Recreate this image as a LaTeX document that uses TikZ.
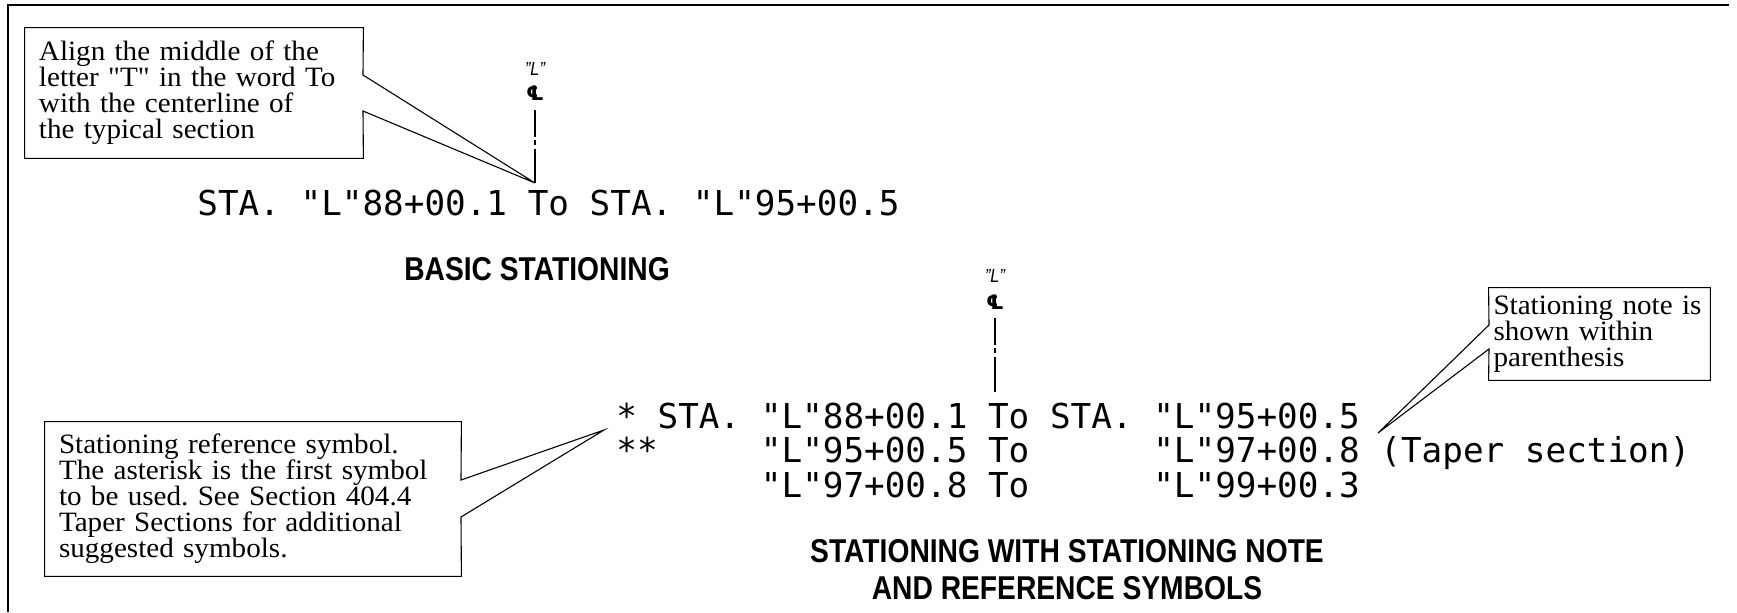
\documentclass[tikz,border=0pt]{standalone}
\usepackage{fontspec}
\newfontfamily\notefont{Liberation Serif}[FakeStretch=1.04]
\newfontfamily\monofont{DejaVu Sans Mono}
\newfontfamily\headfont{Liberation Sans}[FakeStretch=0.855]
\newfontfamily\clfont{DejaVu Sans}
\begin{document}
\begin{tikzpicture}[x=0.5pt,y=-0.5pt,
  note/.style={align=left,inner ysep=0pt,font=\notefont\fontsize{14}{13}\selectfont\frenchspacing},
  outline/.style={line width=0.55pt,line join=miter},
  sta/.style={inner sep=0pt,anchor=base west,font=\monofont\fontsize{17.15}{20}\selectfont\frenchspacing},
  head/.style={inner sep=0pt,anchor=base,font=\headfont\bfseries\fontsize{16.5}{19}\selectfont},
  cllab/.style={inner sep=0pt,font=\headfont\itshape\fontsize{9.5}{10}\selectfont},
  clsym/.style={inner sep=0pt,font=\clfont\bfseries\itshape\fontsize{10}{10}\selectfont},
  cline/.style={line width=0.6pt,dash pattern=on 13.5pt off 1.6pt on 2.5pt off 2pt on 40pt},
  frame/.style={line width=1.3pt}]
\useasboundingbox (0,0) rectangle (1737,612);
% frame
\draw[frame] (8,612) -- (8,5) -- (1729,5);

% ---------- basic stationing ----------
\node[sta] (row1) at (197,215) {STA. "L"88+00.1 To STA. "L"95+00.5};
\node[head] (head1) at (537,280) {BASIC STATIONING};

% centerline 1
\node[cllab] (lab1) at (535,69) {”L”};
\node[clsym] (sym1) at (535,93) {℄};
\coordinate (cl1top) at (535,110);
\coordinate (tip1) at (535,183);
\draw[cline] (cl1top) -- (tip1);

% callout 1
\node[note,text width=155pt,inner xsep=7pt,minimum width=169pt,minimum height=65pt] (c1) at (194,93)
  {Align the middle of the\\letter "T" in the word To\\with the centerline of\\the typical section};
\coordinate (c1b1) at (363,75);
\coordinate (c1b2) at (363,111);
\draw[outline] (c1.north west) -- (c1.north east) -- (c1b1) -- (tip1) -- (c1b2)
  -- (c1.south east) -- (c1.south west) -- cycle;

% ---------- stationing with note and symbols ----------
\node[sta] (l1) at (616,428) {*~STA.~"L"88+00.1~To~STA.~"L"95+00.5};
\node[sta] (l2) at (616,462.5) {**~~~~~"L"95+00.5~To~~~~~~"L"97+00.8~(Taper~section)};
\node[sta] (l3) at (616,497) {~~~~~~~"L"97+00.8~To~~~~~~"L"99+00.3};
\node[head] (head2a) at (1067,562) {STATIONING WITH STATIONING NOTE};
\node[head] (head2b) at (1067,599) {AND REFERENCE SYMBOLS};

% centerline 2
\node[cllab] (lab2) at (995,276) {”L”};
\node[clsym] (sym2) at (995,302) {℄};
\coordinate (cl2top) at (995,318);
\coordinate (cl2bot) at (995,392);
\draw[cline] (cl2top) -- (cl2bot);

% callout 2 (stationing note)
\node[note,text width=106pt,inner xsep=2.25pt,minimum width=110.5pt,minimum height=46pt] (c2) at (1599.5,334)
  {Stationing note is\\shown within\\parenthesis};
\coordinate (c2b1) at (1489,325);
\coordinate (c2b2) at (1489,349);
\coordinate (tip2) at (1378,433);
\draw[outline] (c2.north west) -- (c2.north east) -- (c2.south east) -- (c2.south west)
  -- (c2b2) -- (tip2) -- (c2b1) -- cycle;

% callout 3 (reference symbol)
\node[note,text width=194pt,inner xsep=7pt,minimum width=208pt,minimum height=77pt] (c3) at (253,499)
  {Stationing reference symbol.\\The asterisk is the first symbol\\to be used. See Section 404.4\\Taper Sections for additional\\suggested symbols.};
\coordinate (c3b1) at (461,480);
\coordinate (c3b2) at (461,517);
\coordinate (tip3) at (604,430);
\draw[outline] (c3.north west) -- (c3.north east) -- (c3b1) -- (tip3) -- (c3b2)
  -- (c3.south east) -- (c3.south west) -- cycle;
\end{tikzpicture}
\end{document}
